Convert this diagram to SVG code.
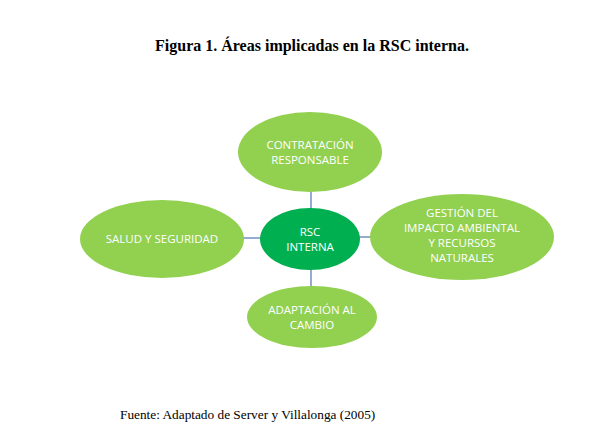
<svg xmlns="http://www.w3.org/2000/svg" width="591" height="444" viewBox="0 0 591 444">
<style>
.outer{fill:#92D050;}
.center{fill:#00B050;}
.lbl{font-family:"Open Sans","Liberation Sans",sans-serif;font-size:11.5px;fill:#ffffff;text-anchor:middle;}
.conn{stroke:#5B7DB8;stroke-width:1.3;fill:none;}
</style>
<rect width="591" height="444" fill="#ffffff"/>
<text x="312" y="51" font-family="Liberation Serif,serif" font-weight="bold" font-size="16" text-anchor="middle" fill="#000">Figura 1. Áreas implicadas en la RSC interna.</text>
<g id="connectors">
<line class="conn" x1="311" y1="192" x2="311" y2="209"/>
<line class="conn" x1="243" y1="238" x2="261" y2="238"/>
<line class="conn" x1="359" y1="237" x2="371" y2="237"/>
<line class="conn" x1="311" y1="269" x2="311" y2="288"/>
</g>
<g id="contratacion">
<ellipse class="outer" cx="310" cy="152" rx="72" ry="40"/>
<text class="lbl" x="310" y="149">CONTRATACIÓN</text>
<text class="lbl" x="310" y="164">RESPONSABLE</text>
</g>
<g id="rsc">
<ellipse class="center" cx="310" cy="239" rx="50" ry="31"/>
<text class="lbl" x="310" y="236">RSC</text>
<text class="lbl" x="310" y="251">INTERNA</text>
</g>
<g id="gestion">
<ellipse class="outer" cx="462" cy="237" rx="92" ry="43"/>
<text class="lbl" x="462" y="217">GESTIÓN DEL</text>
<text class="lbl" x="462" y="232">IMPACTO AMBIENTAL</text>
<text class="lbl" x="462" y="247">Y RECURSOS</text>
<text class="lbl" x="462" y="262">NATURALES</text>
</g>
<g id="salud">
<ellipse class="outer" cx="162" cy="239" rx="82" ry="39"/>
<text class="lbl" x="162" y="243">SALUD Y SEGURIDAD</text>
</g>
<g id="adaptacion">
<ellipse class="outer" cx="312" cy="317" rx="65" ry="31"/>
<text class="lbl" x="312" y="314">ADAPTACIÓN AL</text>
<text class="lbl" x="312" y="329">CAMBIO</text>
</g>
<text x="120" y="419" font-family="Liberation Serif,serif" font-size="13.3" fill="#000">Fuente: Adaptado de Server y Villalonga (2005)</text>
</svg>
